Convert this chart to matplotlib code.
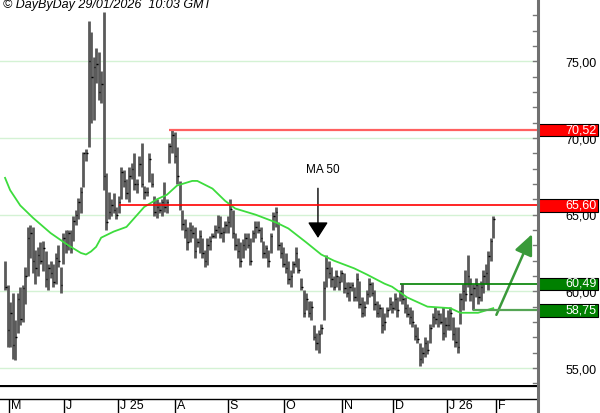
import matplotlib
matplotlib.use("Agg")
import matplotlib.pyplot as plt
import matplotlib.transforms as mtransforms
from matplotlib.lines import Line2D
from matplotlib.patches import Rectangle
import numpy as np

plt.rcParams["font.family"] = ["Liberation Sans", "DejaVu Sans"]

# daily bars (high / low / close), oldest first
highs = [
    62.0, 60.4, 59.3, 59.9, 58.1, 59.9, 60.3, 60.4, 61.6, 64.2,
    64.3, 64.2, 62.7, 62.9, 63.2, 63.3, 62.6, 61.8, 62.0, 61.8,
    62.5, 63.0, 61.6, 63.8, 64.0, 64.0, 64.0, 64.9, 65.3, 66.1,
    66.8, 69.1, 69.3, 77.6, 76.9, 75.3, 75.9, 75.6, 74.4, 78.2,
    67.7, 66.5, 66.0, 66.4, 65.5, 66.2, 68.1, 67.9, 67.3, 68.1,
    68.4, 69.0, 67.3, 68.8, 69.7, 66.9, 66.8, 69.0, 67.7, 66.2,
    66.0, 65.8, 66.0, 67.1, 66.0, 69.7, 70.5, 70.4, 69.4, 67.2,
    65.3, 64.7, 64.2, 64.5, 64.3, 64.2, 63.5, 64.0, 63.5, 62.7,
    63.5, 63.6, 63.8, 64.3, 65.0, 64.9, 64.2, 64.6, 64.9, 66.0,
    65.3, 63.8, 63.5, 63.2, 63.4, 63.8, 63.8, 63.5, 64.0, 64.6,
    64.6, 64.2, 63.3, 63.0, 62.7, 63.8, 65.2, 65.5, 64.5, 63.2,
    62.9, 62.5, 62.0, 61.4, 62.0, 62.9, 62.2, 60.9, 60.1, 59.9,
    59.4, 59.4, 57.8, 57.3, 57.5, 57.9, 60.7, 62.4, 62.0, 61.6,
    61.0, 61.4, 61.0, 61.4, 61.2, 60.6, 60.6, 60.6, 60.3, 61.2,
    60.7, 59.6, 59.4, 60.1, 60.9, 60.6, 60.1, 59.4, 59.2, 59.0,
    58.6, 59.0, 59.6, 59.4, 59.9, 59.6, 60.1, 60.5, 59.6, 59.2,
    59.0, 58.8, 57.9, 57.7, 56.6, 56.4, 57.0, 56.8, 57.9, 58.6,
    59.0, 58.8, 58.6, 59.0, 58.3, 58.8, 59.0, 58.3, 57.7, 57.7,
    59.9, 60.5, 61.4, 62.4, 60.9, 60.5, 60.9, 60.5, 60.7, 61.4,
    61.8, 62.6, 63.5, 64.9]
lows = [
    60.1, 56.4, 56.4, 55.6, 55.5, 57.3, 57.8, 58.0, 59.2, 61.0,
    62.2, 61.2, 60.5, 61.0, 61.8, 61.3, 60.3, 60.1, 60.9, 60.3,
    60.5, 61.6, 59.9, 61.8, 62.5, 62.7, 62.5, 63.3, 64.3, 64.7,
    65.1, 66.8, 68.5, 69.4, 71.0, 71.2, 73.6, 72.5, 72.3, 66.6,
    64.0, 64.7, 64.9, 65.1, 64.7, 65.1, 66.0, 66.8, 66.0, 65.8,
    67.3, 66.6, 66.4, 67.5, 66.8, 66.0, 66.2, 67.1, 66.8, 64.9,
    64.8, 65.1, 64.9, 65.2, 65.1, 68.4, 69.0, 68.4, 67.0, 65.3,
    64.0, 63.5, 62.7, 63.2, 63.5, 62.2, 62.9, 62.5, 62.2, 61.6,
    61.7, 62.7, 63.5, 63.5, 63.8, 63.5, 63.2, 63.8, 63.8, 64.2,
    63.5, 62.7, 62.2, 61.6, 62.2, 62.7, 62.8, 61.7, 63.2, 63.5,
    63.8, 63.2, 62.2, 62.2, 61.6, 62.5, 64.0, 64.2, 62.7, 62.2,
    61.6, 61.2, 60.5, 60.3, 61.2, 61.6, 61.2, 60.1, 58.3, 58.8,
    58.3, 58.1, 56.8, 56.2, 56.0, 57.2, 58.1, 60.3, 60.9, 60.3,
    60.1, 60.3, 60.1, 60.6, 59.9, 59.6, 59.4, 60.0, 59.4, 59.4,
    58.9, 58.3, 58.4, 59.2, 59.6, 59.7, 58.8, 58.3, 58.3, 57.3,
    57.5, 58.3, 58.8, 58.6, 58.8, 58.3, 59.4, 59.2, 58.6, 58.3,
    57.9, 57.7, 56.8, 56.6, 55.1, 55.3, 55.7, 55.9, 56.6, 57.7,
    57.9, 57.7, 57.9, 56.8, 57.0, 57.5, 57.5, 56.8, 56.4, 56.0,
    57.9, 58.8, 59.4, 60.3, 59.4, 58.8, 59.6, 59.2, 59.4, 59.9,
    60.5, 60.1, 62.0, 63.5]
closes = [
    60.3, 57.5, 58.6, 56.5, 57.0, 59.5, 58.2, 60.2, 61.0, 63.5,
    63.8, 62.0, 61.5, 62.4, 62.0, 62.8, 60.8, 61.5, 61.2, 60.6,
    62.2, 62.0, 60.4, 63.5, 63.0, 63.8, 62.8, 64.6, 65.0, 65.8,
    66.5, 69.0, 69.0, 75.0, 74.0, 74.6, 74.8, 73.0, 73.5, 67.5,
    64.5, 65.2, 65.6, 65.3, 65.0, 65.8, 67.8, 67.2, 66.4, 67.5,
    68.0, 67.0, 67.0, 68.3, 67.0, 66.5, 66.5, 68.6, 67.0, 65.2,
    65.5, 65.3, 65.8, 65.5, 65.8, 69.5, 70.2, 68.8, 67.5, 65.6,
    64.4, 64.0, 63.2, 64.0, 63.8, 62.6, 63.2, 63.6, 62.5, 62.0,
    63.0, 63.3, 63.6, 64.0, 64.2, 63.8, 63.9, 64.3, 64.5, 65.4,
    63.8, 63.0, 62.6, 62.0, 63.0, 63.5, 63.0, 62.0, 63.8, 64.2,
    64.0, 63.5, 62.5, 62.8, 62.0, 63.6, 64.9, 65.2, 63.0, 62.5,
    61.8, 61.5, 60.8, 61.0, 61.8, 62.5, 61.4, 60.3, 58.6, 59.5,
    58.6, 59.0, 57.0, 56.6, 57.2, 57.6, 60.2, 61.5, 61.2, 60.8,
    60.3, 61.0, 60.6, 61.2, 60.2, 59.9, 60.3, 60.4, 59.6, 60.8,
    59.2, 58.6, 59.0, 59.8, 60.5, 59.9, 59.2, 58.6, 58.9, 57.8,
    58.0, 58.8, 59.2, 58.9, 59.5, 58.8, 60.0, 59.5, 58.9, 58.5,
    58.3, 58.0, 57.1, 56.9, 55.6, 56.0, 56.6, 56.2, 57.6, 58.3,
    58.2, 58.5, 58.0, 57.3, 57.8, 57.8, 58.6, 57.2, 56.7, 56.4,
    59.5, 60.0, 59.8, 61.0, 59.8, 60.2, 60.4, 59.6, 60.3, 61.0,
    61.2, 62.3, 63.3, 64.7]

# 50 day moving average, read at a few bars
ma_idx = [0, 2, 6, 11, 18, 25, 30, 32, 34, 36, 38, 43, 48, 55, 60, 64, 68, 74, 76,
          82, 87, 91, 99, 107, 112, 119, 125, 130, 138, 143, 150, 153, 159, 167,
          176, 180, 187, 193]
ma_val = [67.4, 66.6, 65.6, 64.8, 63.8, 63.0, 62.5, 62.4, 62.6, 62.9, 63.5, 63.9,
          64.2, 65.5, 66.0, 66.3, 66.9, 67.2, 67.2, 66.7, 65.9, 65.4, 65.0, 64.5,
          64.1, 63.2, 62.4, 62.0, 61.5, 61.1, 60.5, 60.3, 59.6, 59.0, 58.9, 58.6,
          58.6, 58.9]

# horizontal levels: (value, first bar, colour, line width, box colour)
levels = [(70.52, 65, "#ff6060", 1.6, "#ff0000"),
          (65.60, 45, "#ff0000", 1.2, "#ff0000"),
          (60.49, 156, "#008000", 1.2, "#008000"),
          (58.75, 185, "#55a555", 1.6, "#008000")]

month_labels = ["M", "J", "J 25", "A", "S", "O", "N", "D", "J 26", "F"]
month_pos = [1.6, 23.3, 44.7, 67.2, 88.1, 110.3, 133.2, 153.4, 174.7, 194.1]

price_ticks = [55, 60, 65, 70, 75]

W, H = 600, 413
fig = plt.figure(figsize=(W / 100, H / 100), dpi=100)
xr = (-2.0, 210.3)
ax = fig.add_axes([0, 28 / H, 537 / W, 385 / H])
ax.set_xlim(*xr)
ax.set_ylim(53.89, 79.0)
ax.axis("off")

x = np.arange(len(highs))
for t in price_ticks:
    ax.axhline(t, color="#d4f2d4", lw=1, zorder=0)

ax.vlines(x, lows, highs, color="#5a5a5a", lw=2.0, zorder=2)
ax.hlines(closes, x, x + 0.6, color="black", lw=1, zorder=3)
ax.plot(ma_idx, ma_val, color="#3ddc3d", lw=1.3, zorder=4)

for val, start, col, lw, _ in levels:
    ax.hlines(val, start, xr[1], color=col, lw=lw, zorder=5)

# annotations
ax.text(125.5, 67.9, "MA 50", fontsize=8.5, ha="center", va="center")
ax.annotate("", xy=(123.7, 63.3), xytext=(123.7, 66.9),
            arrowprops=dict(arrowstyle="-|>,head_width=0.45,head_length=0.7",
                            color="black", lw=1, mutation_scale=14))
ax.annotate("", xy=(208.8, 63.9), xytext=(193.8, 58.3),
            arrowprops=dict(arrowstyle="-|>,head_width=0.4,head_length=0.9",
                            color="#3a9a3a", lw=1.8, mutation_scale=14),
            annotation_clip=False)

# right scale
blend = mtransforms.blended_transform_factory(fig.transFigure, ax.transData)
for t in np.arange(54, 79):
    ax.plot([533 / W, 537 / W], [t, t], transform=blend, color="#777777",
            lw=1, clip_on=False)
for t in price_ticks:
    ax.text(597 / W, t - 0.14, f"{t:.2f}".replace(".", ","), transform=blend,
            fontsize=9, ha="right", va="center", clip_on=False)
for val, _, _, _, box in levels:
    ax.add_patch(Rectangle((538 / W, val - 0.41), 60 / W, 0.82, transform=blend,
                           facecolor=box, edgecolor="black", lw=0.8,
                           clip_on=False, zorder=6))
    ax.text(597 / W, val, f"{val:.2f}".replace(".", ","), transform=blend,
            fontsize=9, color="white", ha="right", va="center",
            clip_on=False, zorder=7)

# date strip
axd = fig.add_axes([0, 0, 537 / W, 28 / H])
axd.set_xlim(*xr)
axd.set_ylim(0, 28)
axd.axis("off")
axd.axhline(27.2, color="black", lw=1.6)
axd.axhline(14.5, color="black", lw=1)
axd.vlines(month_pos, 0, 14.5, color="black", lw=1)
for p, lab in zip(month_pos, month_labels):
    axd.text(p + 0.7, 6.8, lab, fontsize=9, ha="left", va="center")

fig.add_artist(Line2D([537.5 / W, 537.5 / W], [0, 1], color="#707070", lw=2.2))
fig.text(3 / W, 1 + 1 / H, "\u00a9 DayByDay 29/01/2026  10:03 GMT",
         fontsize=9, style="italic", ha="left", va="top")

fig.savefig("out.png", dpi=100)
